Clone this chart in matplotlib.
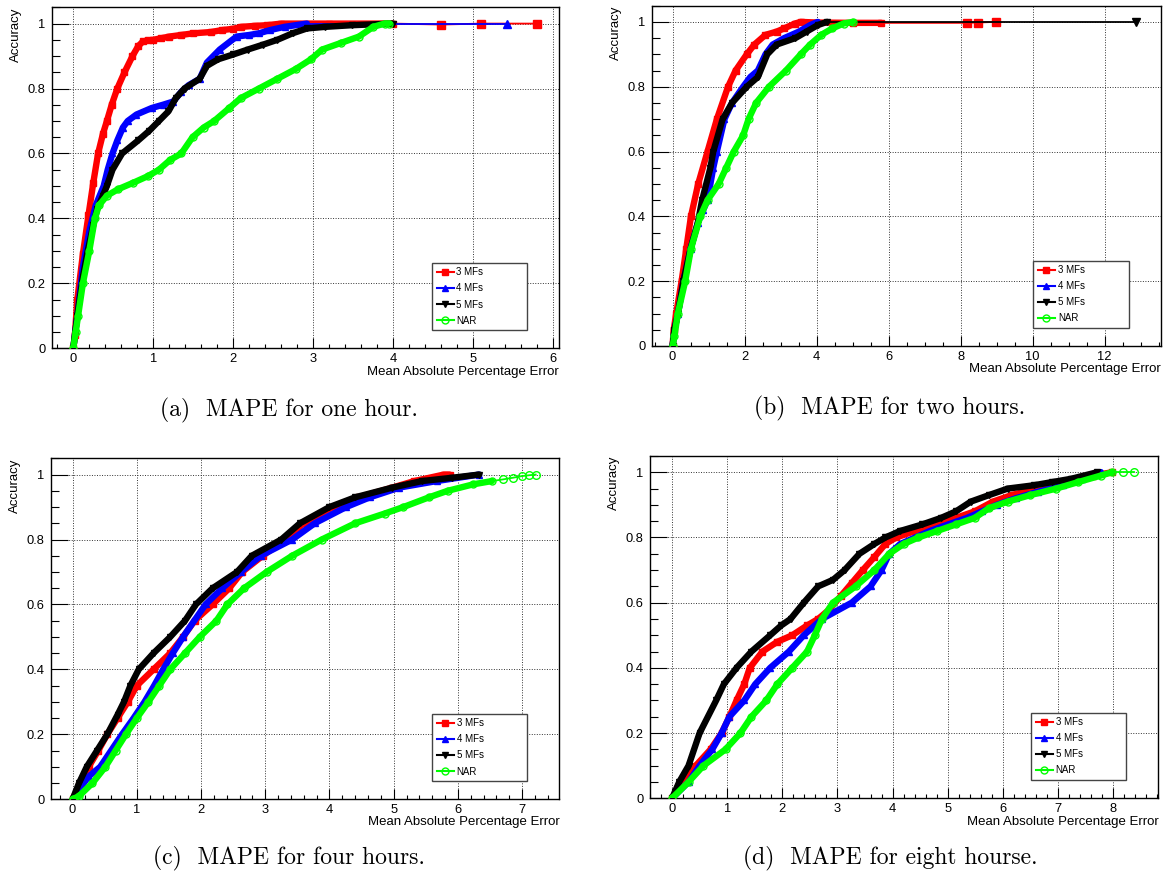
import matplotlib
matplotlib.use("Agg")
import matplotlib.pyplot as plt
from matplotlib.lines import Line2D
from matplotlib.ticker import FuncFormatter, MultipleLocator

plt.rcParams["font.family"] = ["Liberation Sans", "DejaVu Sans"]

FIG_W, FIG_H = 1164, 875

LABELS = ["3 MFs", "4 MFs", "5 MFs", "NAR"]
COLORS = ["#ff0000", "#0000ff", "#000000", "#00ff00"]
MARKERS = ["s", "^", "v", "o"]

# (a) one hour
one_3mf_x = [0.0, 0.02, 0.05, 0.12, 0.19, 0.25, 0.31, 0.37, 0.42, 0.48, 0.55, 0.64,
             0.74, 0.81, 0.87, 0.93, 1.0, 1.1, 1.2, 1.35, 1.5, 1.72, 1.86, 2.0, 2.1,
             2.27, 2.42, 2.6, 3.2, 4.0]
one_3mf_y = [0.0, 0.04, 0.15, 0.29, 0.41, 0.51, 0.6, 0.66, 0.7, 0.75, 0.8, 0.85,
             0.9, 0.93, 0.945, 0.948, 0.95, 0.955, 0.96, 0.965, 0.97, 0.974, 0.98,
             0.984, 0.99, 0.993, 0.995, 1.0, 1.0, 1.0]
one_3mf_tail_x = [4.6, 5.1, 5.8]
one_3mf_tail_y = [0.997, 1.0, 1.0]

one_4mf_x = [0.0, 0.05, 0.12, 0.2, 0.28, 0.33, 0.38, 0.43, 0.49, 0.55, 0.62, 0.68,
             0.79, 0.98, 1.12, 1.25, 1.35, 1.44, 1.58, 1.67, 1.83, 2.04, 2.2, 2.32,
             2.46, 2.64, 2.92]
one_4mf_y = [0.0, 0.1, 0.25, 0.36, 0.44, 0.47, 0.5, 0.55, 0.6, 0.64, 0.68, 0.7,
             0.72, 0.74, 0.75, 0.76, 0.79, 0.81, 0.83, 0.88, 0.92, 0.96, 0.965,
             0.97, 0.98, 0.99, 1.0]
one_4mf_tail_x = [5.42]
one_4mf_tail_y = [1.0]

one_5mf_x = [0.0, 0.05, 0.12, 0.18, 0.25, 0.3, 0.37, 0.42, 0.49, 0.61, 0.81, 0.95,
             1.07, 1.19, 1.28, 1.39, 1.58, 1.67, 1.81, 2.0, 2.18, 2.37, 2.55, 2.74,
             2.92, 3.15, 3.48, 3.99]
one_5mf_y = [0.0, 0.1, 0.22, 0.3, 0.38, 0.43, 0.47, 0.5, 0.55, 0.6, 0.64, 0.67,
             0.7, 0.73, 0.77, 0.8, 0.83, 0.87, 0.89, 0.905, 0.92, 0.935, 0.95, 0.97,
             0.985, 0.99, 0.995, 1.0]

one_nar_x = [0.0, 0.03, 0.06, 0.12, 0.2, 0.27, 0.32, 0.42, 0.56, 0.75, 0.93, 1.07,
             1.21, 1.35, 1.49, 1.63, 1.76, 1.95, 2.09, 2.32, 2.55, 2.78, 2.97, 3.11,
             3.34, 3.57, 3.75, 3.89, 3.95]
one_nar_y = [0.0, 0.05, 0.1, 0.2, 0.3, 0.4, 0.44, 0.47, 0.49, 0.51, 0.53, 0.55,
             0.58, 0.6, 0.65, 0.68, 0.7, 0.74, 0.77, 0.8, 0.83, 0.86, 0.89, 0.92,
             0.94, 0.96, 0.99, 1.0, 1.0]

# (b) two hours
two_3mf_x = [0.0, 0.03, 0.1, 0.25, 0.38, 0.51, 0.71, 0.97, 1.23, 1.54, 1.75, 2.06,
             2.27, 2.58, 2.89, 3.1, 3.4, 3.56, 4.0, 5.0, 5.8]
two_3mf_y = [0.0, 0.05, 0.1, 0.2, 0.3, 0.4, 0.5, 0.6, 0.7, 0.8, 0.85, 0.9, 0.93,
             0.96, 0.97, 0.98, 0.995, 1.0, 0.998, 0.997, 0.997]
two_3mf_tail_x = [8.17, 8.48, 8.98]
two_3mf_tail_y = [0.997, 0.998, 1.0]

two_4mf_x = [0.0, 0.05, 0.15, 0.3, 0.5, 0.7, 0.85, 0.97, 1.13, 1.23, 1.44, 1.65,
             1.96, 2.16, 2.37, 2.58, 2.78, 3.1, 3.51, 3.82, 4.03]
two_4mf_y = [0.0, 0.05, 0.1, 0.2, 0.3, 0.38, 0.42, 0.45, 0.55, 0.6, 0.7, 0.75,
             0.8, 0.83, 0.85, 0.9, 0.93, 0.95, 0.97, 0.99, 1.0]

two_5mf_x = [0.0, 0.05, 0.15, 0.3, 0.5, 0.7, 0.82, 1.05, 1.13, 1.39, 1.65, 2.06,
             2.37, 2.63, 2.89, 3.41, 3.72, 4.03, 4.29]
two_5mf_y = [0.0, 0.05, 0.1, 0.2, 0.3, 0.38, 0.45, 0.55, 0.6, 0.7, 0.75, 0.8,
             0.83, 0.9, 0.93, 0.95, 0.97, 0.99, 1.0]
two_5mf_tail_x = [12.88]
two_5mf_tail_y = [1.0]

two_nar_x = [0.0, 0.05, 0.145, 0.35, 0.51, 0.77, 0.97, 1.28, 1.49, 1.7, 1.96, 2.11,
             2.32, 2.68, 3.15, 3.56, 3.82, 4.13, 4.44, 4.75, 5.01]
two_nar_y = [0.0, 0.03, 0.1, 0.2, 0.3, 0.4, 0.45, 0.5, 0.55, 0.6, 0.65, 0.7, 0.75,
             0.8, 0.85, 0.9, 0.93, 0.96, 0.98, 0.995, 1.0]

# (c) four hours
four_3mf_x = [0.0, 0.1, 0.25, 0.4, 0.54, 0.7, 0.86, 1.0, 1.26, 1.52, 1.72, 1.9,
              2.18, 2.44, 2.64, 2.96, 3.31, 3.6, 4.06, 4.46, 4.98, 5.32, 5.78, 5.87]
four_3mf_y = [0.0, 0.04, 0.1, 0.15, 0.2, 0.25, 0.3, 0.35, 0.4, 0.45, 0.5, 0.55,
              0.6, 0.65, 0.7, 0.75, 0.8, 0.85, 0.9, 0.93, 0.96, 0.98, 1.0, 1.0]

four_4mf_x = [0.0, 0.1, 0.25, 0.43, 0.6, 0.77, 0.95, 1.12, 1.27, 1.41, 1.56, 1.72,
              2.07, 2.33, 2.62, 2.93, 3.42, 3.77, 4.26, 4.63, 5.09, 5.67, 6.33]
four_4mf_y = [0.0, 0.03, 0.07, 0.1, 0.15, 0.2, 0.25, 0.3, 0.35, 0.4, 0.45, 0.5,
              0.6, 0.65, 0.7, 0.75, 0.8, 0.85, 0.9, 0.93, 0.96, 0.98, 1.0]

four_5mf_x = [0.0, 0.1, 0.22, 0.38, 0.54, 0.7, 0.8, 0.9, 1.03, 1.26, 1.52, 1.75,
              1.92, 2.18, 2.56, 2.79, 3.25, 3.54, 4.0, 4.4, 4.98, 5.44, 5.9, 6.33]
four_5mf_y = [0.0, 0.05, 0.1, 0.15, 0.2, 0.26, 0.3, 0.35, 0.4, 0.45, 0.5, 0.55,
              0.6, 0.65, 0.7, 0.75, 0.8, 0.85, 0.9, 0.93, 0.96, 0.98, 0.99, 1.0]

four_nar_x = [0.0, 0.1, 0.31, 0.51, 0.67, 0.83, 1.0, 1.18, 1.35, 1.52, 1.75, 1.98,
              2.24, 2.41, 2.67, 3.02, 3.42, 3.88, 4.4, 4.86, 5.15, 5.55, 5.84, 6.24,
              6.53]
four_nar_y = [0.0, 0.01, 0.05, 0.1, 0.15, 0.2, 0.25, 0.3, 0.35, 0.4, 0.45, 0.5,
              0.55, 0.6, 0.65, 0.7, 0.75, 0.8, 0.85, 0.88, 0.9, 0.93, 0.95, 0.97,
              0.98]
four_nar_tail_x = [6.7, 6.85, 6.99, 7.11, 7.21]
four_nar_tail_y = [0.985, 0.99, 0.995, 0.998, 1.0]

# (d) eight hours
eight_3mf_x = [0.0, 0.23, 0.43, 0.7, 0.9, 1.04, 1.17, 1.31, 1.41, 1.64, 1.91, 2.18,
               2.45, 2.65, 2.86, 3.06, 3.26, 3.46, 3.67, 3.87, 4.07, 4.41, 4.74,
               5.15, 5.49, 5.82, 6.16, 6.63, 7.1, 7.64, 7.98]
eight_3mf_y = [0.0, 0.05, 0.1, 0.15, 0.2, 0.25, 0.3, 0.35, 0.4, 0.45, 0.48, 0.5,
               0.53, 0.55, 0.58, 0.62, 0.66, 0.7, 0.74, 0.78, 0.8, 0.82, 0.84, 0.86,
               0.88, 0.91, 0.93, 0.95, 0.97, 0.99, 1.0]

eight_4mf_x = [0.0, 0.3, 0.5, 0.73, 0.9, 1.04, 1.31, 1.51, 1.78, 2.12, 2.39, 2.72,
               3.26, 3.6, 3.8, 3.94, 4.14, 4.41, 4.68, 5.01, 5.35, 5.62, 5.89, 6.23,
               6.63, 7.1, 7.44, 7.78]
eight_4mf_y = [0.0, 0.05, 0.1, 0.15, 0.2, 0.25, 0.3, 0.35, 0.4, 0.45, 0.5, 0.55,
               0.6, 0.65, 0.7, 0.75, 0.78, 0.8, 0.82, 0.84, 0.86, 0.88, 0.9, 0.92,
               0.94, 0.96, 0.98, 1.0]

eight_5mf_x = [0.0, 0.13, 0.3, 0.5, 0.8, 0.94, 1.17, 1.44, 1.78, 1.98, 2.15, 2.39,
               2.65, 2.92, 3.13, 3.4, 3.67, 3.87, 4.14, 4.54, 4.88, 5.15, 5.42, 5.75,
               6.09, 6.56, 6.9, 7.24, 7.71]
eight_5mf_y = [0.0, 0.05, 0.1, 0.2, 0.3, 0.35, 0.4, 0.45, 0.5, 0.53, 0.55, 0.6,
               0.65, 0.67, 0.7, 0.75, 0.78, 0.8, 0.82, 0.84, 0.86, 0.88, 0.91, 0.93,
               0.95, 0.96, 0.97, 0.98, 1.0]

eight_nar_x = [0.0, 0.3, 0.57, 0.97, 1.24, 1.44, 1.71, 1.91, 2.18, 2.45, 2.59, 2.72,
               2.92, 3.33, 3.67, 3.94, 4.2, 4.47, 4.81, 5.15, 5.49, 5.75, 6.09, 6.5,
               6.97, 7.37, 7.78, 7.98]
eight_nar_y = [0.0, 0.05, 0.1, 0.15, 0.2, 0.25, 0.3, 0.35, 0.4, 0.45, 0.5, 0.55,
               0.6, 0.65, 0.7, 0.75, 0.78, 0.8, 0.82, 0.84, 0.86, 0.89, 0.91, 0.93,
               0.95, 0.97, 0.99, 1.0]
eight_nar_tail_x = [8.18, 8.38]
eight_nar_tail_y = [1.0, 1.0]

CAPTIONS = [
    "(a)  MAPE for one hour.",
    "(b)  MAPE for two hours.",
    "(c)  MAPE for four hours.",
    "(d)  MAPE for eight hourse.",
]


def draw_series(ax, color, marker, xs, ys, tail_x=None, tail_y=None):
    face = "none" if marker == "o" else color
    if tail_x:
        ax.plot([xs[-1]] + tail_x, [ys[-1]] + tail_y, color=color, lw=1.3,
                marker=marker, ms=5.5, mfc=face, mec=color, mew=1.0,
                markevery=list(range(1, len(tail_x) + 1)), zorder=3)
    ax.plot(xs, ys, color=color, lw=4.6, solid_capstyle="round",
            solid_joinstyle="round", zorder=3)
    ax.plot(xs, ys, color=color, lw=0, marker=marker, ms=5, mfc=face, mec=color,
            mew=1.0, zorder=3)


def style_axes(ax, xlim, x_major, x_minor, label_x):
    ax.set_xlim(*xlim)
    ax.set_ylim(0, 1.05)
    ax.xaxis.set_major_locator(MultipleLocator(x_major))
    ax.xaxis.set_minor_locator(MultipleLocator(x_minor))
    ax.yaxis.set_major_locator(MultipleLocator(0.2))
    ax.yaxis.set_minor_locator(MultipleLocator(0.05))
    fmt = FuncFormatter(lambda v, pos: f"{round(v, 3):g}")
    ax.xaxis.set_major_formatter(fmt)
    ax.yaxis.set_major_formatter(fmt)

    ax.tick_params(axis="y", which="major", direction="in", length=12,
                   width=0.8, labelsize=9.3, pad=4.5)
    ax.tick_params(axis="y", which="minor", direction="in", length=5.5,
                   width=0.8)
    ax.tick_params(axis="x", which="major", direction="in", length=7,
                   width=0.8, labelsize=9.3, pad=3.5)
    ax.tick_params(axis="x", which="minor", direction="in", length=3.2,
                   width=0.8)
    for spine in ax.spines.values():
        spine.set_linewidth(1.0)

    ax.grid(True, which="major", color="#333333", linestyle=(0, (1, 1.6)),
            linewidth=0.7)
    ax.set_axisbelow(True)

    ax.set_xlabel("Mean Absolute Percentage Error", loc="right", fontsize=9.5)
    ax.xaxis.label.set_va("center")
    ax.xaxis.set_label_coords(1.0, -0.068)
    ax.set_ylabel("Accuracy", loc="top", fontsize=9.5)
    ax.yaxis.set_label_coords(label_x, 1.0)


def add_legend(ax):
    handles = []
    for color, marker, label in zip(COLORS, MARKERS, LABELS):
        face = "none" if marker == "o" else color
        handles.append(Line2D([], [], color=color, lw=1.5, marker=marker, ms=5,
                              mfc=face, mec=color, label=label))
    leg = ax.legend(handles=handles, loc="upper left",
                    bbox_to_anchor=(0.75, 0.25, 0.187, 0.0), mode="expand",
                    borderaxespad=0, fontsize=7, handlelength=1.75,
                    handletextpad=0.3, labelspacing=0.62, borderpad=0.45,
                    numpoints=1, frameon=True, fancybox=False, framealpha=1,
                    edgecolor="#444444")
    leg.get_frame().set_linewidth(1.0)


def main():
    fig = plt.figure(figsize=(FIG_W / 100, FIG_H / 100), dpi=100)

    panels = [
        {
            "rect": [0.0444, 0.6019, 0.4358, 0.3897],
            "xlim": (-0.27, 6.07), "major": 1, "minor": 0.2,
            "caption_xy": (289, 410),
            "series": [
                (one_3mf_x, one_3mf_y, one_3mf_tail_x, one_3mf_tail_y),
                (one_4mf_x, one_4mf_y, one_4mf_tail_x, one_4mf_tail_y),
                (one_5mf_x, one_5mf_y, None, None),
                (one_nar_x, one_nar_y, None, None),
            ],
        },
        {
            "rect": [0.5599, 0.6046, 0.4373, 0.3889],
            "xlim": (-0.58, 13.56), "major": 2, "minor": 0.5,
            "caption_xy": (890, 408),
            "series": [
                (two_3mf_x, two_3mf_y, two_3mf_tail_x, two_3mf_tail_y),
                (two_4mf_x, two_4mf_y, None, None),
                (two_5mf_x, two_5mf_y, two_5mf_tail_x, two_5mf_tail_y),
                (two_nar_x, two_nar_y, None, None),
            ],
        },
        {
            "rect": [0.0436, 0.0865, 0.437, 0.3897],
            "xlim": (-0.34, 7.58), "major": 1, "minor": 0.2,
            "caption_xy": (289, 858),
            "series": [
                (four_3mf_x, four_3mf_y, None, None),
                (four_4mf_x, four_4mf_y, None, None),
                (four_5mf_x, four_5mf_y, None, None),
                (four_nar_x, four_nar_y, four_nar_tail_x, four_nar_tail_y),
            ],
        },
        {
            "rect": [0.5584, 0.0877, 0.4367, 0.3912],
            "xlim": (-0.40, 8.82), "major": 1, "minor": 0.2,
            "caption_xy": (890, 858),
            "series": [
                (eight_3mf_x, eight_3mf_y, None, None),
                (eight_4mf_x, eight_4mf_y, None, None),
                (eight_5mf_x, eight_5mf_y, None, None),
                (eight_nar_x, eight_nar_y, eight_nar_tail_x, eight_nar_tail_y),
            ],
        },
    ]

    for panel, caption in zip(panels, CAPTIONS):
        ax = fig.add_axes(panel["rect"])
        style_axes(ax, panel["xlim"], panel["major"], panel["minor"], -0.059)
        for (xs, ys, tx, ty), color, marker in zip(panel["series"], COLORS,
                                                  MARKERS):
            draw_series(ax, color, marker, xs, ys, tx, ty)
        add_legend(ax)

        cx, cy = panel["caption_xy"]
        fig.text(cx / FIG_W, 1 - cy / FIG_H, caption, ha="center", va="center",
                 family="cmr10", fontsize=17)

    fig.savefig("out.png", dpi=100)


if __name__ == "__main__":
    main()
